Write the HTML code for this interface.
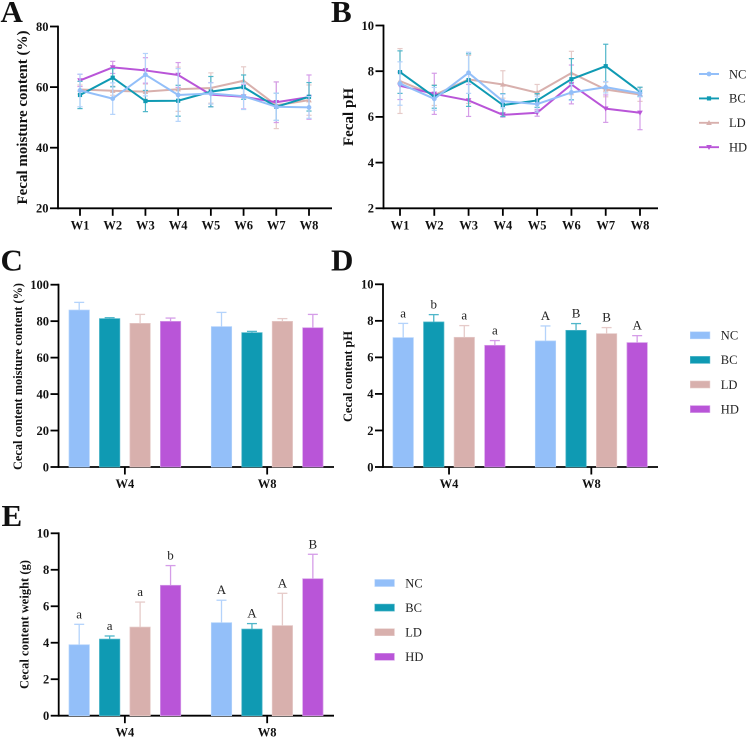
<!DOCTYPE html>
<html>
<head>
<meta charset="utf-8">
<title>Fecal and cecal content charts</title>
<style>
html,body{margin:0;padding:0;background:#fff;width:747px;height:737px;overflow:hidden}
svg{display:block;font-family:"Liberation Serif",serif;filter:blur(0.3px)}
.tick{font-weight:bold;font-size:12.5px;fill:#111}
.title{font-weight:bold;fill:#111}
.panel{font-weight:bold;font-size:31px;fill:#111}
.leg{font-size:12.5px;fill:#222}
.sig{font-size:13px;fill:#222}
</style>
</head>
<body>
<svg id="fig" xmlns="http://www.w3.org/2000/svg" width="747" height="737" viewBox="0 0 747 737"></svg>
<script>
var groupNames = ['NC', 'BC', 'LD', 'HD'];
var weekLabels = ['W1', 'W2', 'W3', 'W4', 'W5', 'W6', 'W7', 'W8'];
var barGroups = ['W4', 'W8'];

var moistureNC = [58.9, 56.2, 64.1, 57.4, 57.9, 57.0, 53.5, 53.3];
var moistureBC = [57.4, 63.1, 55.4, 55.5, 58.5, 60.0, 53.5, 56.8];
var moistureLD = [59.2, 58.8, 58.5, 59.3, 59.7, 62.1, 54.0, 55.7];
var moistureHD = [62.2, 66.5, 65.5, 64.0, 57.5, 56.8, 55.0, 56.7];
var moistureErrNC = [5.4, 5.2, 7.0, 8.7, 3.5, 4.4, 4.5, 3.6];
var moistureErrBC = [4.5, 3.0, 3.5, 5.1, 5.0, 4.0, 4.5, 4.7];
var moistureErrLD = [1.5, 1.5, 2.5, 7.3, 5.0, 4.6, 7.7, 5.0];
var moistureErrHD = [2.0, 2.0, 4.2, 4.1, 4.0, 4.0, 6.7, 7.3];
var moistureTicks = [20, 40, 60, 80];

var phNC = [7.46, 6.79, 7.93, 6.69, 6.56, 7.07, 7.30, 7.03];
var phBC = [7.96, 6.88, 7.61, 6.52, 6.72, 7.65, 8.22, 7.10];
var phLD = [7.57, 6.95, 7.64, 7.42, 7.06, 7.92, 7.20, 6.98];
var phHD = [7.36, 7.01, 6.72, 6.09, 6.18, 7.42, 6.36, 6.18];
var phErrNC = [0.95, 0.50, 0.90, 0.30, 0.35, 0.35, 0.25, 0.15];
var phErrBC = [0.93, 0.50, 1.15, 0.50, 0.30, 0.90, 0.96, 0.20];
var phErrLD = [1.42, 0.45, 1.05, 0.60, 0.36, 0.95, 0.32, 0.30];
var phErrHD = [0.60, 0.90, 0.70, 0.10, 0.15, 0.85, 0.60, 0.74];
var phTicks = [2, 4, 6, 8, 10];

var cecalMoistureValues = [86.1, 81.4, 78.8, 79.9, 77.0, 73.7, 79.9, 76.4];
var cecalMoistureTops = [90.3, 81.9, 83.7, 81.7, 84.8, 74.4, 81.4, 83.7];
var cecalMoistureTicks = [0, 20, 40, 60, 80, 100];

var cecalPhValues = [7.08, 7.94, 7.10, 6.66, 6.90, 7.48, 7.30, 6.81];
var cecalPhTops = [7.86, 8.34, 7.74, 6.92, 7.72, 7.85, 7.63, 7.19];
var cecalPhLetters = ['a', 'b', 'a', 'a', 'A', 'B', 'B', 'A'];

var cecalWeightValues = [3.89, 4.20, 4.86, 7.15, 5.10, 4.75, 4.94, 7.51];
var cecalWeightTops = [5.01, 4.37, 6.23, 8.23, 6.33, 5.05, 6.71, 8.85];
var cecalWeightLetters = ['a', 'a', 'a', 'b', 'A', 'A', 'A', 'B'];
var zeroToTenTicks = [0, 2, 4, 6, 8, 10];

var colors = {NC: '#93bff9', BC: '#0f9ab3', LD: '#d8b0ad', HD: '#b955d8'};
var lightColors = {NC: '#b4d3fb', BC: '#4fb6c9', LD: '#e6cbc9', HD: '#d59de8'};
var svg = document.getElementById('fig');
var NS = 'http://www.w3.org/2000/svg';

function make(tag, attrs, parent) {
  var el = document.createElementNS(NS, tag);
  for (var k in attrs) el.setAttribute(k, attrs[k]);
  (parent || svg).appendChild(el);
  return el;
}
function label(text, attrs, cls, parent) {
  var el = make('text', attrs, parent);
  el.setAttribute('class', cls);
  el.textContent = text;
  return el;
}
function scale(d0, d1, r0, r1) {
  return function (v) { return r0 + (v - d0) / (d1 - d0) * (r1 - r0); };
}
function stroke(x1, y1, x2, y2, color, w, parent) {
  return make('line', {x1: x1, y1: y1, x2: x2, y2: y2, stroke: color, 'stroke-width': w}, parent);
}

function drawAxes(g, o) {
  var ya = stroke(o.x0, o.yTop - 0.9, o.x0, o.yBot + 0.9, '#000', 1.8, g);
  
  
  var xa = stroke(o.x0, o.yBot, o.xEnd, o.yBot, '#000', 1.8, g);
  
  
  o.ticks.forEach(function (t) {
    var y = o.y(t);
    var tk = stroke(o.x0 - 8, y, o.x0, y, '#000', 1.8, g);
    
    
    var tl = label(String(t), {x: o.x0 - 9.5, y: y + 4.3, 'text-anchor': 'end'}, 'tick', g);
    
    
  });
  var tt = label(o.title, {
    x: 0, y: 0, 'text-anchor': 'middle', 'font-size': o.titleSize,
    textLength: o.titleLen,
    transform: 'translate(' + o.titleX + ',' + o.titleY + ') rotate(-90)'
  }, 'title', g);
  
  
  var pl = label(o.panel, {x: o.panelX, y: o.panelY}, 'panel', g);
  
  
}

function marker(g, name, x, y, color) {
  var el;
  if (name === 'NC') el = make('circle', {cx: x, cy: y, r: 2.4, fill: color}, g);
  else if (name === 'BC') el = make('rect', {x: x - 2.1, y: y - 2.1, width: 4.2, height: 4.2, fill: color}, g);
  else if (name === 'LD') el = make('polygon', {points: [x - 2.8, y + 2.2, x + 2.8, y + 2.2, x, y - 2.8].join(','), fill: color}, g);
  else el = make('polygon', {points: [x - 2.8, y - 2.2, x + 2.8, y - 2.2, x, y + 2.8].join(','), fill: color}, g);
  return el;
}

function drawLinePanel(o) {
  var g = make('g', {});
  
  
  var x = scale(0, weekLabels.length - 1, o.x1, o.x8);
  var y = scale(o.ticks[0], o.ticks[o.ticks.length - 1], o.yBot, o.yTop);
  o.y = y;
  drawAxes(g, o);
  weekLabels.forEach(function (w, i) {
    var t = stroke(x(i), o.yBot, x(i), o.yBot + 7.5, '#000', 1.8, g);
    
    
    var l = label(w, {x: x(i), y: o.yBot + 21, 'text-anchor': 'middle'}, 'tick', g);
    
    
  });
  o.order.forEach(function (name) {
    var vals = o.series[name], errs = o.errors[name], c = colors[name], lc = lightColors[name];
    var sg = make('g', {}, g);
    
    
    vals.forEach(function (v, i) {
      var px = x(i), a = y(v + errs[i]), b = y(v - errs[i]);
      stroke(px, a, px, b, lc, 1.2, sg);
      stroke(px - 2.6, a, px + 2.6, a, lc, 1.2, sg);
      stroke(px - 2.6, b, px + 2.6, b, lc, 1.2, sg);
    });
    var pts = vals.map(function (v, i) { return x(i) + ',' + y(v); }).join(' ');
    var line = make('polyline', {points: pts, fill: 'none', stroke: c, 'stroke-width': 2}, sg);
    
    
    vals.forEach(function (v, i) {
      var m = marker(sg, name, x(i), y(v), c);
      
      
    });
  });
}

function drawBarPanel(o) {
  var g = make('g', {});
  
  
  var y = scale(0, o.ticks[o.ticks.length - 1], o.yBot, o.yTop);
  o.y = y;
  drawAxes(g, o);
  var n = groupNames.length;
  var bw = 20.4;
  o.values.forEach(function (v, i) {
    var gi = Math.floor(i / n), si = i % n, name = groupNames[si];
    var left = o.barStart + gi * o.groupStep + si * o.barStep;
    var cx = left + bw / 2;
    var top = y(o.tops[i]);
    var eb = stroke(cx, y(v), cx, top, lightColors[name], 1.3, g);
    
    
    var ec = stroke(cx - 5, top, cx + 5, top, lightColors[name], 1.3, g);
    
    
    var b = make('rect', {x: left, y: y(v), width: bw, height: o.yBot - y(v), fill: colors[name], stroke: lightColors[name], 'stroke-width': 0.7}, g);
    
    
    if (o.letters) {
      var s = label(o.letters[i], {x: cx, y: top - 6, 'text-anchor': 'middle'}, 'sig', g);
      
      
    }
  });
  barGroups.forEach(function (w, gi) {
    var cx = o.barStart + gi * o.groupStep + 1.5 * o.barStep + bw / 2;
    var t = stroke(cx, o.yBot, cx, o.yBot + 7.5, '#000', 1.8, g);
    
    
    var l = label(w, {x: cx, y: o.yBot + 21, 'text-anchor': 'middle'}, 'tick', g);
    
    
  });
}

function drawLineLegend(x, y0, step) {
  var g = make('g', {});
  
  
  groupNames.forEach(function (name, i) {
    var y = y0 + i * step;
    var e = make('g', {}, g);
    
    
    stroke(x, y, x + 20, y, colors[name], 1.9, e);
    marker(e, name, x + 10, y, colors[name]);
    label(name, {x: x + 30, y: y + 4.3}, 'leg', e);
  });
}

function drawBarLegend(name0, x, y0, step) {
  var g = make('g', {});
  
  
  groupNames.forEach(function (name, i) {
    var y = y0 + i * step;
    var e = make('g', {}, g);
    
    
    make('rect', {x: x, y: y - 3.5, width: 19.6, height: 7, fill: colors[name], stroke: lightColors[name], 'stroke-width': 0.6}, e);
    label(name, {x: x + 30.5, y: y + 4.3}, 'leg', e);
  });
}

drawLinePanel({
  name: 'panel-a-fecal-moisture', panel: 'A', panelX: 0.5, panelY: 22,
  x0: 58, xEnd: 332, yTop: 26.5, yBot: 208.3, x1: 80, x8: 309, ticks: moistureTicks,
  title: 'Fecal moisture content (%)', titleSize: 15, titleLen: 174, titleX: 27, titleY: 117.5,
  order: ['LD', 'HD', 'BC', 'NC'],
  series: {NC: moistureNC, BC: moistureBC, LD: moistureLD, HD: moistureHD},
  errors: {NC: moistureErrNC, BC: moistureErrBC, LD: moistureErrLD, HD: moistureErrHD}
});
drawLinePanel({
  name: 'panel-b-fecal-ph', panel: 'B', panelX: 331, panelY: 22,
  x0: 383.5, xEnd: 658, yTop: 25.5, yBot: 208.3, x1: 400, x8: 640, ticks: phTicks,
  title: 'Fecal pH', titleSize: 15, titleLen: 58, titleX: 353, titleY: 117,
  order: ['LD', 'HD', 'BC', 'NC'],
  series: {NC: phNC, BC: phBC, LD: phLD, HD: phHD},
  errors: {NC: phErrNC, BC: phErrBC, LD: phErrLD, HD: phErrHD}
});
drawLineLegend(699, 74, 24.4);

drawBarPanel({
  name: 'panel-c-cecal-moisture', panel: 'C', panelX: 0.5, panelY: 270.5,
  x0: 58.5, xEnd: 334, yTop: 284.7, yBot: 467, ticks: cecalMoistureTicks,
  title: 'Cecal content moisture content (%)', titleSize: 12.3, titleLen: 187, titleX: 22, titleY: 376.5,
  values: cecalMoistureValues, tops: cecalMoistureTops,
  barStart: 69, barStep: 30.45, groupStep: 142.3
});
drawBarPanel({
  name: 'panel-d-cecal-ph', panel: 'D', panelX: 331, panelY: 270.5,
  x0: 383, xEnd: 658, yTop: 284.3, yBot: 467, ticks: zeroToTenTicks,
  title: 'Cecal content pH', titleSize: 12.3, titleLen: 91, titleX: 352, titleY: 376.5,
  values: cecalPhValues, tops: cecalPhTops, letters: cecalPhLetters,
  barStart: 393, barStep: 30.55, groupStep: 142.3
});
drawBarLegend('bar-legend-d', 690.3, 335.3, 24.6);
drawBarPanel({
  name: 'panel-e-cecal-weight', panel: 'E', panelX: 1.5, panelY: 526,
  x0: 58.7, xEnd: 334, yTop: 533.3, yBot: 715.7, ticks: zeroToTenTicks,
  title: 'Cecal content weight (g)', titleSize: 12.3, titleLen: 129, titleX: 28.5, titleY: 624.5,
  values: cecalWeightValues, tops: cecalWeightTops, letters: cecalWeightLetters,
  barStart: 69, barStep: 30.45, groupStep: 142.3
});
drawBarLegend('bar-legend-e', 374.8, 583, 24.6);
</script>
</body>
</html>
